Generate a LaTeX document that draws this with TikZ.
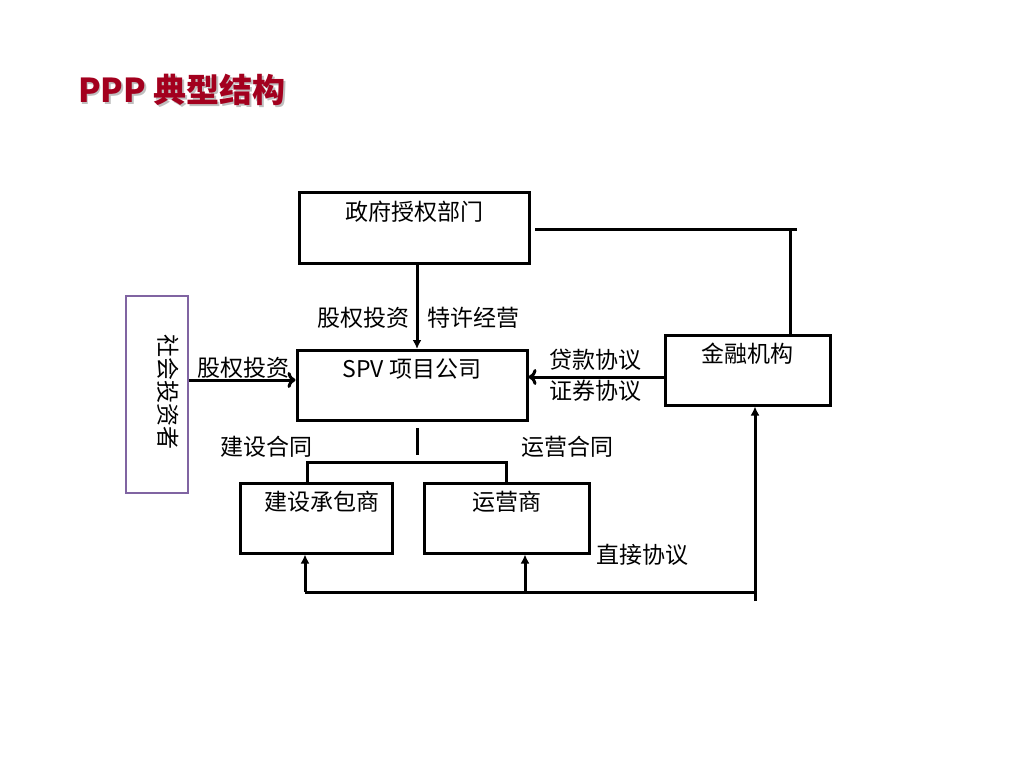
\documentclass[tikz,border=0pt]{standalone}
\usepackage{fontspec}
\setmainfont{Noto Sans CJK SC}
\usetikzlibrary{arrows.meta,calc}
\definecolor{titlered}{HTML}{A3001E}
\definecolor{purp}{HTML}{8064A2}
\tikzset{
  box/.style={draw=black, line width=3pt, minimum width=#1, minimum height=70pt, inner sep=0pt},
  txt/.style={font=\fontsize{23}{28}\selectfont, inner sep=0pt},
  conn/.style={line width=3pt},
  arr/.style={line width=3pt, -{Latex[length=9pt,width=9pt]}},
  openarr/.style={line width=3pt, -{To[length=8pt,width=16pt]}}
}
\begin{document}
\begin{tikzpicture}[x=1pt,y=-1pt]
\useasboundingbox (0,0) rectangle (1024,767);
% title
\node[anchor=west, inner sep=0pt, text=black!25, font=\fontsize{33}{38}\selectfont\bfseries] at (79.5,91.5) {PPP 典型结构};
\node[anchor=west, inner sep=0pt, text=titlered, font=\fontsize{33}{38}\selectfont\bfseries] (title) at (78,90) {PPP 典型结构};
% boxes
\node[box=230pt] (gov) at (414,228) {};
\node[box=230pt] (spv) at (412,385.5) {};
\node[box=165pt] (fin) at (747.5,370) {};
\node[box=152pt] (con) at (316,518) {};
\node[box=165pt] (op) at (506.5,518) {};
\node[draw=purp, line width=2.4pt, minimum width=62pt, minimum height=197pt, inner sep=0pt] (inv) at (157,394.5) {};
% box texts
\node[txt] (govt) at ([yshift=-20]gov.north) {政府授权部门};
\node[txt] (spvt) at ([yshift=-20]spv.north) {SPV 项目公司};
\node[txt] (fint) at ([yshift=-20]fin.north) {金融机构};
\node[txt] (cont) at ([xshift=6,yshift=-20]con.north) {建设承包商};
\node[txt] (opt) at ([yshift=-20]op.north) {运营商};
\node[txt, rotate=-90] (invt) at (168,392) {社会投资者};
% connectors
\draw[arr] ([xshift=3]gov.south) -- ([xshift=5]spv.north);
\node[txt] (l1) at (363,318) {股权投资};
\node[txt] (l2) at (473,318) {特许经营};
\coordinate (g1) at (535,230);
\coordinate (g2) at (797,230);
\coordinate (g3) at (790,230);
\draw[conn] (g1) -- (g2);
\draw[conn] (g3) -- (g3 |- fin.north);
\coordinate (f1) at (fin.west |- 0,377);
\draw[openarr] (f1) -- (spv.east |- f1);
\node[txt] (l3) at (595,360) {贷款协议};
\node[txt] (l4) at (595,391) {证券协议};
\coordinate (i1) at (inv.east |- 0,380);
\draw[openarr] (i1) -- (spv.west |- i1);
\node[txt] (l5) at (243,368) {股权投资};
\coordinate (s1) at (417,428);
\coordinate (s2) at (417,455);
\draw[conn] (s1) -- (s2);
\node[txt] (l6) at (266,447) {建设合同};
\node[txt] (l7) at (567,447) {运营合同};
\coordinate (b1) at (307,462);
\coordinate (b2) at (506,462);
\draw[conn] (b1 |- con.north) -- (b1) -- (b2) -- (b2 |- op.north);
\coordinate (d1) at (305,592);
\coordinate (d2) at (525,592);
\coordinate (d3) at (755,592);
\coordinate (d4) at (755,601);
\draw[conn] (d1) -- (d3);
\draw[arr] (d1) -- (d1 |- con.south);
\draw[arr] (d2) -- (d2 |- op.south);
\draw[arr] (d4) -- (d4 |- fin.south);
\node[txt] (l8) at (642,555) {直接协议};
\end{tikzpicture}
\end{document}
